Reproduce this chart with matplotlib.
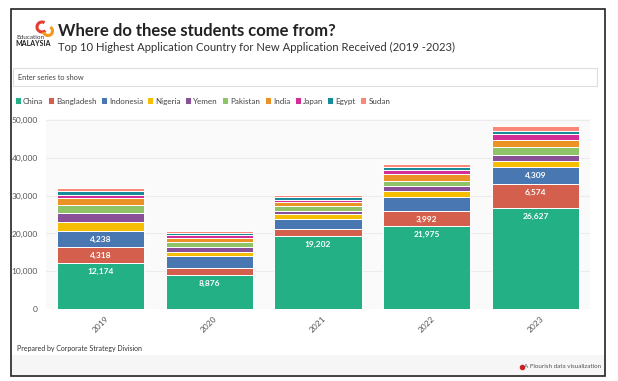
import numpy as np
import matplotlib.pyplot as plt
from matplotlib.patches import Rectangle, Arc
from matplotlib.lines import Line2D

# --- Data ---
years = ['2019', '2020', '2021', '2022', '2023']
countries = ['China', 'Bangladesh', 'Indonesia', 'Nigeria', 'Yemen',
             'Pakistan', 'India', 'Japan', 'Egypt', 'Sudan']
china = [12174, 8876, 19202, 21975, 26627]
bangladesh = [4318, 2100, 2030, 3992, 6574]
indonesia = [4238, 3180, 2650, 3570, 4309]
nigeria = [2300, 1060, 1150, 1590, 1590]
yemen = [2400, 1330, 1000, 1320, 1770]
pakistan = [2000, 1240, 1250, 1410, 1940]
india = [1900, 1060, 1150, 1770, 2030]
japan = [900, 620, 550, 1060, 1500]
egypt = [1000, 620, 620, 880, 800]
sudan = [800, 530, 550, 800, 1240]
series = [china, bangladesh, indonesia, nigeria, yemen,
          pakistan, india, japan, egypt, sudan]
colors = ['#22b084', '#d35f4c', '#4977b2', '#f6be00', '#894f97',
          '#8fc368', '#eb9224', '#d32e97', '#168c9b', '#fa8778']

W, H = 618, 381
plt.rcParams['font.family'] = ['Lato', 'DejaVu Sans']


def px(x, y):
    # pixel position (from top-left) -> figure fraction
    return x / W, 1 - y / H


fig = plt.figure(figsize=(W / 100, H / 100), dpi=100)

# outer frame and bottom band
fig.patches.append(Rectangle(px(10.5, 376), 594.5 / W, 367 / H, transform=fig.transFigure,
                             fill=False, edgecolor='#222222', linewidth=1.2))
fig.patches.append(Rectangle(px(11.5, 375), 592 / W, 20 / H, transform=fig.transFigure,
                             facecolor='#f6f6f7', edgecolor='none'))

# logo (rough swirl + wordmark)
fig.patches.append(Arc(px(42, 27), 10 / W, 10 / H, theta1=70, theta2=300,
                       transform=fig.transFigure, color='#e63b2e', linewidth=2.2))
fig.patches.append(Arc(px(48, 31), 9 / W, 9 / H, theta1=200, theta2=430,
                       transform=fig.transFigure, color='#f39a1e', linewidth=2.2))
fig.text(*px(16, 37.5), 'Education', fontsize=4.6, color='#333333', va='center')
fig.text(*px(15, 43.5), 'MALAYSIA', fontsize=5, fontweight='bold', color='#222222', va='center')

# titles
fig.text(*px(58, 31), 'Where do these students come from?', fontsize=12,
         fontweight='bold', color='#222222', va='center')
fig.text(*px(58, 47), 'Top 10 Highest Application Country for New Application Received (2019 -2023)',
         fontsize=8.1, color='#333333', va='center')

# search box
fig.patches.append(Rectangle(px(13, 86), 584 / W, 18 / H, transform=fig.transFigure,
                             facecolor='white', edgecolor='#dddddd', linewidth=0.8))
fig.text(*px(18, 77), 'Enter series to show', fontsize=5.3, color='#444444', va='center')

# chart
ax = fig.add_axes([46 / W, 1 - 309 / H, 544 / W, 190 / H])
ax.set_facecolor('#fafafa')
x = np.arange(len(years))
bottom = np.zeros(len(years))
handles = []
for name, vals, col in zip(countries, series, colors):
    bars = ax.bar(x, vals, 0.8, bottom=bottom, color=col, edgecolor='white',
                  linewidth=0.7, label=name)
    handles.append(bars)
    for xi, b, v in zip(x, bottom, vals):
        if v >= 3800:
            ax.annotate(f'{v:,}', (xi, b + v), xytext=(0, -3.5), textcoords='offset points',
                        ha='center', va='top', fontsize=6, fontweight='bold', color='white')
    bottom += np.array(vals)

ax.set_xlim(-0.5, 4.5)
ax.set_ylim(0, 50300)
ax.set_yticks(np.arange(0, 50001, 10000))
ax.set_yticklabels([f'{v:,}' for v in range(0, 50001, 10000)])
ax.set_xticks(x)
ax.set_xticklabels(years, rotation=45, ha='center')
ax.tick_params(length=0, labelsize=6, labelcolor='#555555')
ax.tick_params(axis='y', pad=6)
ax.tick_params(axis='x', pad=4)
ax.grid(axis='y', color='#ececec', linewidth=0.8)
ax.set_axisbelow(True)
for s in ax.spines.values():
    s.set_visible(False)

fig.legend(handles=handles, labels=countries, loc='center left', bbox_to_anchor=px(15, 101),
           ncol=10, frameon=False, fontsize=5.8, handlelength=0.75, handleheight=0.95,
           handletextpad=0.25, columnspacing=0.55, borderaxespad=0, borderpad=0,
           labelcolor='#444444')

# footer
fig.text(*px(17, 348), 'Prepared by Corporate Strategy Division', fontsize=5,
         color='#333333', va='center')
fig.add_artist(Line2D([522 / W], [1 - 367 / H], marker='o', markersize=3,
                      color='#cc2222', transform=fig.transFigure))
fig.text(*px(601, 367), 'A Flourish data visualization', fontsize=4.5, color='#555555',
         va='center', ha='right')

fig.savefig('out.png', dpi=100)
